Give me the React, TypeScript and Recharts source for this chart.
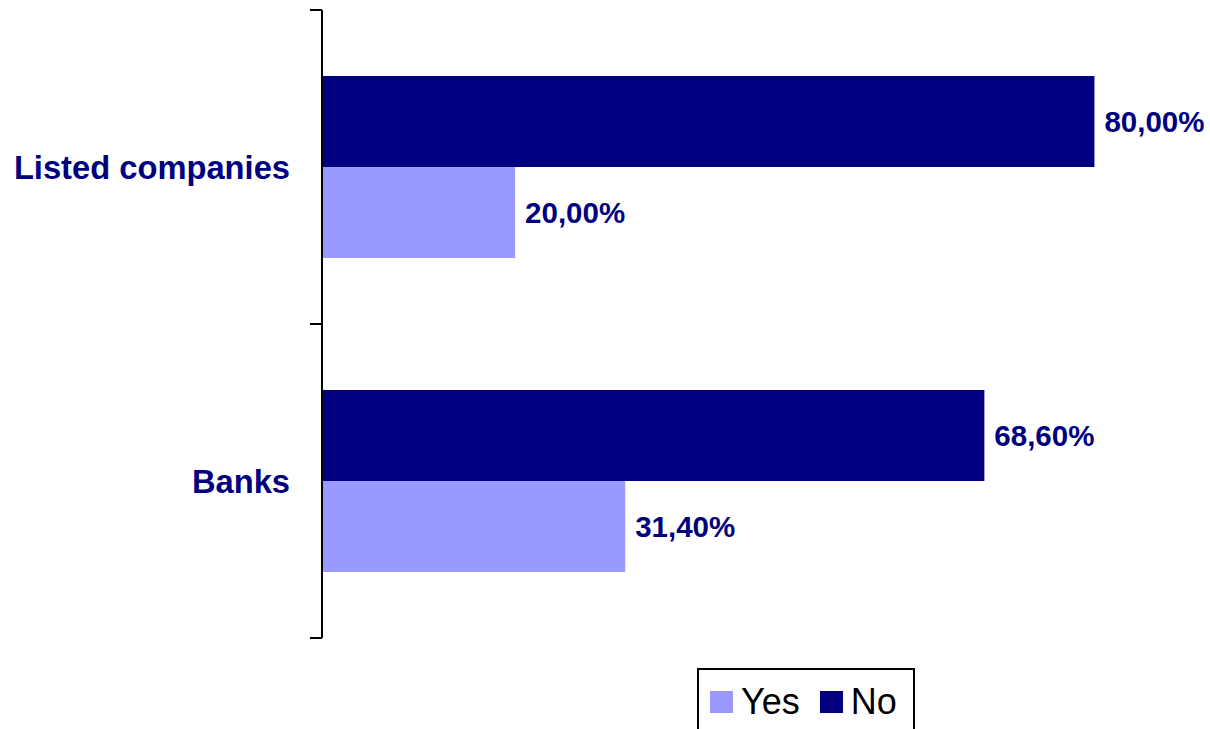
import { BarChart, Bar, XAxis, YAxis, LabelList } from 'recharts';

const categories = ['Listed companies', 'Banks'];
const noValues = [80.0, 68.6];
const yesValues = [20.0, 31.4];

const NAVY = '#000080';
const LILAC = '#9999FF';
const FONT = '"Liberation Sans", Arial, sans-serif';

const W = 1210;
const H = 729;
const AXIS_W = 40;
const MARGIN = { top: 10, right: 19, bottom: 91, left: 322 - AXIS_W };
const HALF_BAND = (H - MARGIN.top - MARGIN.bottom) / categories.length / 2;

const data = categories.map((name, i) => ({ name, no: noValues[i], yes: yesValues[i] }));

const fmt = (v: number) => `${v.toFixed(2).replace('.', ',')}%`;

function CategoryTick({ x, y, payload }: any) {
  return (
    <g>
      <text x={x - 32} y={y} dy="0.355em" textAnchor="end" fill={NAVY} fontSize={32.7} fontWeight="bold" fontFamily={FONT}>
        {payload.value}
      </text>
      <line x1={x - 12} x2={x} y1={y - HALF_BAND} y2={y - HALF_BAND} stroke="#000" strokeWidth={2} />
      <line x1={x - 12} x2={x} y1={y + HALF_BAND} y2={y + HALF_BAND} stroke="#000" strokeWidth={2} />
    </g>
  );
}

function Swatch({ color, label, gap }: { color: string; label: string; gap: number }) {
  return (
    <span style={{ display: 'inline-flex', alignItems: 'center', marginRight: gap }}>
      <span style={{ width: 23, height: 22, background: color, display: 'inline-block', marginRight: 8 }} />
      <span style={{ fontSize: 36, color: '#000', lineHeight: '36px' }}>{label}</span>
    </span>
  );
}

export default function App() {
  return (
    <div style={{ position: 'absolute', left: 0, top: 0, width: W, height: H, background: '#fff', fontFamily: FONT, overflow: 'hidden' }}>
      <BarChart width={W} height={H} data={data} layout="vertical" margin={MARGIN} barCategoryGap={66} barGap={0}>
        <XAxis type="number" domain={[0, 90]} hide />
        <YAxis
          type="category"
          dataKey="name"
          width={AXIS_W}
          tickSize={0}
          tickMargin={0}
          tickLine={false}
          axisLine={{ stroke: '#000', strokeWidth: 2 }}
          tick={<CategoryTick />}
        />
        <Bar dataKey="no" fill={NAVY} isAnimationActive={false}>
          <LabelList dataKey="no" position="right" offset={10} formatter={(v: any) => fmt(Number(v))}
            style={{ fill: NAVY, fontSize: 29.5, fontWeight: 'bold', fontFamily: FONT }} />
        </Bar>
        <Bar dataKey="yes" fill={LILAC} isAnimationActive={false}>
          <LabelList dataKey="yes" position="right" offset={10} formatter={(v: any) => fmt(Number(v))}
            style={{ fill: NAVY, fontSize: 29.5, fontWeight: 'bold', fontFamily: FONT }} />
        </Bar>
      </BarChart>
      <div style={{ position: 'absolute', left: 697, top: 668, width: 214, height: 80, border: '2px solid #000', boxSizing: 'content-box' }}>
        <div style={{ marginTop: 14, marginLeft: 11, display: 'flex' }}>
          <Swatch color={LILAC} label="Yes" gap={20} />
          <Swatch color={NAVY} label="No" gap={0} />
        </div>
      </div>
    </div>
  );
}
